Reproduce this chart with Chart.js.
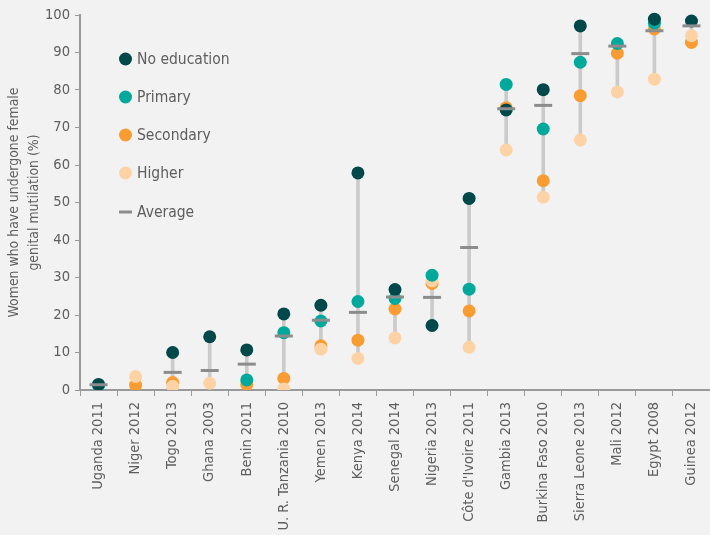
<!DOCTYPE html>
<html>
<head>
<meta charset="utf-8">
<script src="https://cdn.jsdelivr.net/npm/chart.js@4.4.0/dist/chart.umd.min.js"></script>
<style>
html, body { margin: 0; padding: 0; background: #f2f2f2; overflow: hidden; }
#wrap { position: absolute; left: 0; top: 0; width: 722px; height: 535px; }
</style>
</head>
<body>
<div id="wrap"><canvas id="c"></canvas></div>
<script>
const categories = ['Uganda 2011','Niger 2012','Togo 2013','Ghana 2003','Benin 2011','U. R. Tanzania 2010','Yemen 2013','Kenya 2014','Senegal 2014','Nigeria 2013',"Côte d'Ivoire 2011",'Gambia 2013','Burkina Faso 2010','Sierra Leone 2013','Mali 2012','Egypt 2008','Guinea 2012'];
const noEducation = [1.5, null, 10.0, 14.2, 10.7, 20.3, 22.6, 57.9, 26.8, 17.2, 51.1, 74.7, 80.1, 97.1, null, 98.9, 98.4];
const primary     = [1.2, null, null, null, 2.7, 15.3, 18.4, 23.6, 24.4, 30.6, 26.9, 81.5, 69.6, 87.4, 92.4, 97.8, null];
const secondary   = [null, 1.3, 2.0, null, 1.5, 3.1, 11.8, 13.3, 21.6, 28.4, 21.1, 75.3, 55.8, 78.5, 89.8, 96.3, 92.7];
const higher      = [null, 3.6, 1.0, 1.8, null, 0.3, 10.9, 8.4, 13.9, 29.1, 11.4, 64.0, 51.4, 66.7, 79.5, 82.9, 94.5];
const average     = [1.4, null, 4.7, 5.2, 6.9, 14.4, 18.6, 20.7, 24.8, 24.7, 38.0, 75.0, 75.9, 89.7, 91.7, 95.8, 97.1];
const yTicks = [0,10,20,30,40,50,60,70,80,90,100];
const seriesNames = ['No education','Primary','Secondary','Higher','Average'];

const COLORS = { noEd: '#00484a', prim: '#00a99b', sec: '#f99c32', high: '#fdd3a5', avg: '#8c8c8c', range: '#cbcbcb' };
const FONT = "'DejaVu Sans Condensed', 'DejaVu Sans', sans-serif";
const TEXT = '#5e5e5e';

const ranges = categories.map((_, i) => {
  const vals = [noEducation[i], primary[i], secondary[i], higher[i], average[i]].filter(v => v !== null);
  return vals.length ? [Math.min(...vals), Math.max(...vals)] : null;
});

function pointSet(label, data, color, order) {
  return {
    type: 'line', label, data, showLine: false, order,
    pointRadius: 6.5, pointHoverRadius: 6.5,
    pointBackgroundColor: color, pointBorderColor: color, pointBorderWidth: 0,
    clip: { left: 12, top: 12, right: 12, bottom: 0 }
  };
}

const legendPlugin = {
  id: 'customLegend',
  afterDraw(chart) {
    const ctx = chart.ctx;
    const items = [
      { t: seriesNames[0], c: COLORS.noEd, y: 59 },
      { t: seriesNames[1], c: COLORS.prim, y: 97 },
      { t: seriesNames[2], c: COLORS.sec, y: 135 },
      { t: seriesNames[3], c: COLORS.high, y: 173 },
      { t: seriesNames[4], c: COLORS.avg, y: 212, line: true }
    ];
    ctx.save();
    ctx.font = '15.5px ' + FONT;
    ctx.textBaseline = 'middle';
    ctx.textAlign = 'left';
    items.forEach(it => {
      if (it.line) {
        ctx.strokeStyle = it.c; ctx.lineWidth = 3;
        ctx.beginPath(); ctx.moveTo(119, it.y); ctx.lineTo(132, it.y); ctx.stroke();
      } else {
        ctx.fillStyle = it.c;
        ctx.beginPath(); ctx.arc(125.5, it.y, 6.5, 0, Math.PI * 2); ctx.fill();
      }
      ctx.fillStyle = TEXT;
      ctx.fillText(it.t, 137, it.y + 1);
    });
    ctx.restore();
  }
};

new Chart(document.getElementById('c'), {
  type: 'bar',
  data: {
    labels: categories,
    datasets: [
      {
        type: 'line', label: seriesNames[4], data: average, showLine: false, order: 0,
        pointStyle: 'line', pointRadius: 9, pointHoverRadius: 9,
        pointBorderColor: COLORS.avg, pointBorderWidth: 3, pointBackgroundColor: COLORS.avg,
        clip: { left: 12, top: 12, right: 12, bottom: 0 }
      },
      pointSet(seriesNames[0], noEducation, COLORS.noEd, 1),
      pointSet(seriesNames[1], primary, COLORS.prim, 2),
      pointSet(seriesNames[3], higher, COLORS.high, 3),
      pointSet(seriesNames[2], secondary, COLORS.sec, 4),
      {
        type: 'bar', label: 'range', data: ranges, order: 5,
        backgroundColor: COLORS.range, barThickness: 3, borderSkipped: false
      }
    ]
  },
  options: {
    responsive: true,
    maintainAspectRatio: false,
    animation: false,
    layout: { padding: { top: 15, right: 2, left: 0, bottom: 0 } },
    plugins: { legend: { display: false }, tooltip: { enabled: false } },
    scales: {
      x: {
        type: 'category',
        offset: true,
        grid: { display: true, offset: true, drawOnChartArea: false, drawTicks: true, tickLength: 6, tickColor: '#9a9a9a' },
        border: { display: true, color: '#9a9a9a', width: 2 },
        ticks: { minRotation: 90, maxRotation: 90, autoSkip: false, color: TEXT, font: { family: FONT, size: 14.5 }, padding: 6 },
        afterFit(s) { s.height = 145; }
      },
      y: {
        min: 0, max: 100,
        afterBuildTicks(s) { s.ticks = yTicks.map(v => ({ value: v })); },
        grid: { display: true, drawOnChartArea: false, drawTicks: true, tickLength: 5, tickColor: '#9a9a9a' },
        border: { display: true, color: '#9a9a9a', width: 2 },
        ticks: { color: TEXT, font: { family: FONT, size: 14.6 }, padding: 5 },
        title: {
          display: true,
          text: ['Women who have undergone female', 'genital mutilation (%)'],
          color: TEXT, font: { family: FONT, size: 13.9, lineHeight: 1.45 }, padding: { top: 4, bottom: 0 }
        },
        afterFit(s) { s.width = 80; }
      }
    }
  },
  plugins: [legendPlugin]
});
</script>
</body>
</html>
